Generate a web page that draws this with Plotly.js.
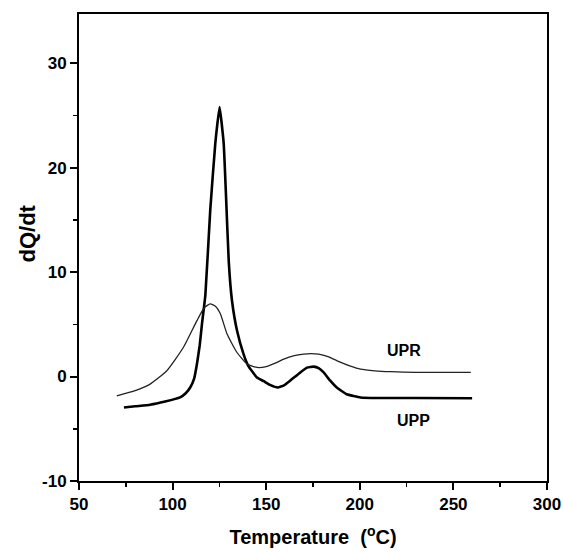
<!DOCTYPE html>
<html>
<head>
<meta charset="utf-8">
<script src="https://cdn.plot.ly/plotly-3.0.1.min.js"></script>
<style>html,body{margin:0;padding:0;background:#fff;}#chart{width:563px;height:552px;}</style>
</head>
<body>
<div id="chart"></div>
<script>
const uppT = [74, 80, 88, 96, 104, 107, 109.4, 111.5, 113, 114.5, 115.7, 117.5, 120.1, 122.8, 125.1, 127.3, 128.6, 130, 131.7, 134.4, 137.9, 140.5, 145.1, 148.7, 152, 156.2, 159.5, 162.8, 168.2, 171.8, 175.4, 178, 180.7, 184.2, 187.7, 193, 200.4, 210, 230, 260];
const uppQ = [-2.97, -2.85, -2.7, -2.4, -2.0, -1.6, -1.05, -0.2, 1.2, 3.0, 5.06, 7.8, 15.9, 22.3, 25.8, 22.3, 17.0, 11.0, 7.3, 4.4, 2.15, 1.0, -0.1, -0.45, -0.8, -1.05, -0.85, -0.4, 0.39, 0.85, 0.95, 0.8, 0.39, -0.4, -1.05, -1.7, -2.0, -2.05, -2.05, -2.08];
const uprT = [70.2, 80, 88, 96.9, 105.8, 113, 117, 120.1, 123, 125.5, 129.1, 134.4, 139.8, 145.1, 150, 155.8, 159.4, 165, 170, 173.7, 178, 183, 187.9, 195, 200.4, 208, 216.5, 230, 259.3];
const uprQ = [-1.85, -1.35, -0.73, 0.55, 2.8, 5.35, 6.6, 6.95, 6.7, 6.0, 4.07, 2.3, 1.2, 0.87, 0.95, 1.35, 1.67, 2.0, 2.15, 2.2, 2.15, 1.9, 1.5, 1.0, 0.71, 0.55, 0.46, 0.4, 0.39];
const xTicks = [50, 100, 150, 200, 250, 300];
const xMinor = [75, 125, 175, 225, 275];
const yTicks = [-10, 0, 10, 20, 30];
const yMinor = [-5, 5, 15, 25];
const seriesNames = ['UPP', 'UPR'];
const labelPos = [[228.5, -4.24], [223.4, 2.47]];

const F = 'Liberation Sans, Arial, sans-serif';
const B = s => '<b>' + s + '</b>';
const data = [
  {x: uppT, y: uppQ, name: seriesNames[0], type: 'scatter', mode: 'lines',
   line: {color: '#000', width: 2.6, shape: 'spline', smoothing: 0.35}},
  {x: uprT, y: uprQ, name: seriesNames[1], type: 'scatter', mode: 'lines',
   line: {color: '#222', width: 1.3, shape: 'spline', smoothing: 0.5}}
];
const axisCommon = {
  showgrid: false, zeroline: false, showline: true, linecolor: '#000', linewidth: 2,
  mirror: true, ticks: 'outside', ticklen: 7, tickwidth: 2, tickcolor: '#000',
  tickfont: {family: F, size: 17, color: '#000', weight: 'bold'}
};
const layout = {
  width: 563, height: 552,
  margin: {l: 79, r: 16, t: 14, b: 71},
  paper_bgcolor: '#fff', plot_bgcolor: '#fff',
  showlegend: false,
  xaxis: Object.assign({}, axisCommon, {
    range: [50, 300], tickmode: 'array', tickvals: xTicks, ticktext: xTicks.map(v => B(String(v))),
    minor: {ticks: 'outside', ticklen: 4, tickwidth: 1.5, tickcolor: '#000', tickmode: 'array', tickvals: xMinor},
    title: {text: B('Temperature  (<sup>o</sup>C)'), font: {family: F, size: 20, color: '#000', weight: 'bold'}, standoff: 17}
  }),
  yaxis: Object.assign({}, axisCommon, {
    range: [-10, 34.7], tickmode: 'array', tickvals: yTicks, ticktext: yTicks.map(v => B(String(v))),
    minor: {ticks: 'outside', ticklen: 4, tickwidth: 1.5, tickcolor: '#000', tickmode: 'array', tickvals: yMinor}
  }),
  annotations: [
    {xref: 'paper', yref: 'paper', x: -0.109, y: 0.53, xanchor: 'center', yanchor: 'middle',
     text: B('dQ/dt'), textangle: -90,
     showarrow: false, font: {family: F, size: 22, color: '#000', weight: 'bold'}},
    {x: labelPos[0][0], y: labelPos[0][1], text: B(seriesNames[0]), showarrow: false,
     font: {family: F, size: 16, color: '#000', weight: 'bold'}},
    {x: labelPos[1][0], y: labelPos[1][1], text: B(seriesNames[1]), showarrow: false,
     font: {family: F, size: 16, color: '#000', weight: 'bold'}}
  ]
};
Plotly.newPlot('chart', data, layout, {displayModeBar: false, staticPlot: true});
</script>
</body>
</html>
